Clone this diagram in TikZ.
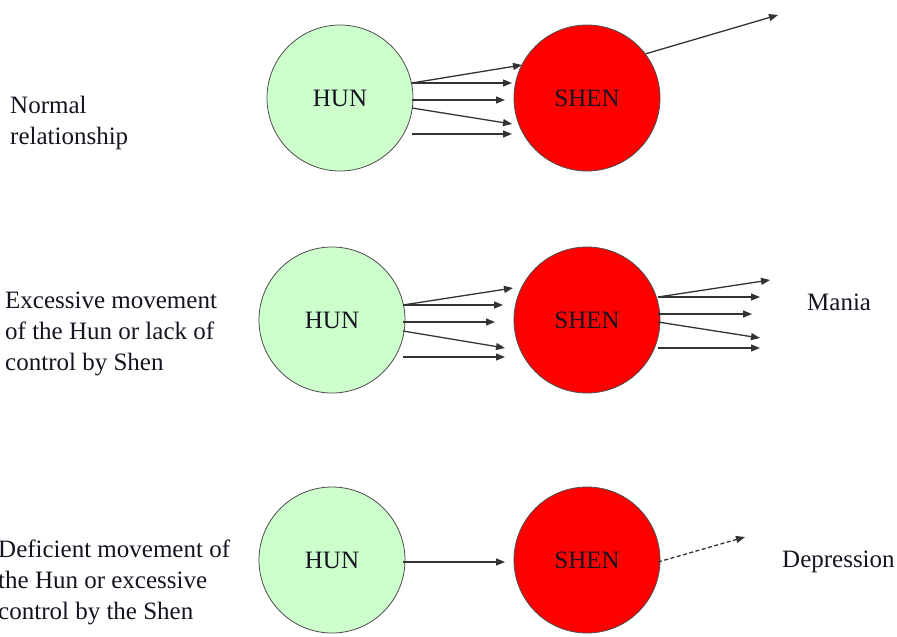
\documentclass[tikz,border=0pt]{standalone}
\usepackage{fontspec}
\setmainfont{Liberation Serif}
\usetikzlibrary{arrows.meta}
\definecolor{hungreen}{HTML}{CCFFCC}
\definecolor{txtcol}{HTML}{141420}
\begin{document}
\begin{tikzpicture}[x=1pt,y=-1pt,
  ball/.style={circle,draw=black!70,line width=0.8pt,minimum size=146pt,inner sep=0pt,
    font=\fontsize{25}{30}\selectfont,text=txtcol},
  hun/.style={ball,fill=hungreen},
  shen/.style={ball,fill=red},
  arr/.style={-{Triangle[length=9pt,width=7pt]},line width=1.3pt,draw=black!80},
  lbl/.style={inner sep=0pt,align=left,font=\fontsize{25}{31}\selectfont,text=txtcol}
]
\useasboundingbox (0,0) rectangle (897,637);

% circles
\node[hun]  (hun1)  at (340,98)  {HUN};
\node[shen] (shen1) at (587,98)  {SHEN};
\node[hun]  (hun2)  at (332,320) {HUN};
\node[shen] (shen2) at (587,320) {SHEN};
\node[hun]  (hun3)  at (332,560) {HUN};
\node[shen] (shen3) at (587,560) {SHEN};

% labels
\node[lbl,anchor=north west] (t1) at (10,96) {Normal\\relationship};
\node[lbl,anchor=north west] (t2) at (5,292) {Excessive movement\\of the Hun or lack of\\control by Shen};
\node[lbl,anchor=north west] (t3) at (-2,540) {Deficient movement of\\the Hun or excessive\\control by the Shen};
\node[lbl,anchor=base west] (mania) at (807,310) {Mania};
\node[lbl,anchor=base west] (dep) at (782,567) {Depression};

% row 1 arrows
\coordinate (r1s1) at (412,83);
\coordinate (r1s2) at (412,100);
\coordinate (r1s3) at (412,108);
\coordinate (r1s4) at (412,134);
\coordinate (r1e1) at (522,65);
\coordinate (r1e2) at (512,83);
\coordinate (r1e3) at (505,100);
\coordinate (r1e4) at (512,124);
\coordinate (r1e5) at (512,134);
\draw[arr] (r1s1) -- (r1e1);
\draw[arr] (r1s1) -- (r1e2);
\draw[arr] (r1s2) -- (r1e3);
\draw[arr] (r1s3) -- (r1e4);
\draw[arr] (r1s4) -- (r1e5);
\coordinate (r1out) at (778,15);
\draw[arr] (shen1.37) -- (r1out);

% row 2 arrows (Hun to Shen)
\coordinate (r2s1) at (403,305);
\coordinate (r2s2) at (403,322);
\coordinate (r2s3) at (403,331);
\coordinate (r2s4) at (403,357);
\coordinate (r2e1) at (513,288);
\coordinate (r2e2) at (503,305);
\coordinate (r2e3) at (495,322);
\coordinate (r2e4) at (505,348);
\coordinate (r2e5) at (505,357);
\draw[arr] (r2s1) -- (r2e1);
\draw[arr] (r2s1) -- (r2e2);
\draw[arr] (r2s2) -- (r2e3);
\draw[arr] (r2s3) -- (r2e4);
\draw[arr] (r2s4) -- (r2e5);

% row 2 arrows (Shen outward)
\coordinate (r2o1) at (658,297);
\coordinate (r2o2) at (658,314);
\coordinate (r2o3) at (658,322);
\coordinate (r2o4) at (658,348);
\coordinate (r2f1) at (770,280);
\coordinate (r2f2) at (760,297);
\coordinate (r2f3) at (752,314);
\coordinate (r2f4) at (760,338);
\coordinate (r2f5) at (760,348);
\draw[arr] (r2o1) -- (r2f1);
\draw[arr] (r2o1) -- (r2f2);
\draw[arr] (r2o2) -- (r2f3);
\draw[arr] (r2o3) -- (r2f4);
\draw[arr] (r2o4) -- (r2f5);

% row 3 arrows
\coordinate (r3s) at (403,562);
\coordinate (r3e) at (505,562);
\draw[arr] (r3s) -- (r3e);
\coordinate (r3o) at (658,562);
\coordinate (r3f) at (745,537);
\draw[arr,dashed,dash pattern=on 4pt off 2.5pt] (r3o) -- (r3f);
\end{tikzpicture}
\end{document}
